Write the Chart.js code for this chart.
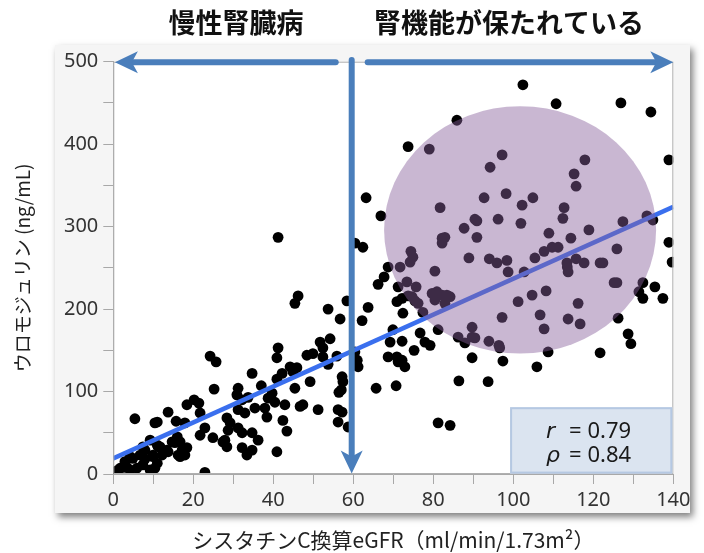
<!DOCTYPE html>
<html><head><meta charset="utf-8">
<script src="https://cdn.jsdelivr.net/npm/chart.js@4"></script>
<style>html,body{margin:0;padding:0;background:#fff}#wrap{width:704px;height:553px}</style>
</head><body><div id="wrap"><canvas id="c" width="704" height="553"></canvas></div>
<script>
// eGFR (x) and uromodulin (y) per patient
const egfr = [
 0.9,1.7,3.4,4.2,4.9,5.9,6.7,7.4,7.4,9.2,
 9.9,10.4,11,11.2,5.4,10.4,11,13.7,15.7,17.9,
 18.4,20.2,21.4,21.7,22.9,21.7,22.9,16,16.7,14.7,
 17.2,17.9,16.2,13.4,24.2,25.7,25.2,24.9,27.4,28.4,
 29.2,28.7,27.9,28.4,31.2,30.9,32.2,33.7,31.2,32.9,
 35.4,37.9,38.7,40.4,39.7,42.9,46.7,47.4,51.2,56.2,
 57.2,42.4,43.4,56.2,58.7,31.2,32.2,34.7,36.2,32.2,
 33.4,34.7,40.9,38.4,34.7,37,41.2,46.2,45.4,53.7,
 56.7,58.4,60.4,62.4,54.2,51.7,52.4,52.4,48.4,49.9,
 55.9,53.7,41.2,40.9,42.2,44.2,45.9,44.9,40.9,49.2,
 45.4,57.2,56.4,57,61,61.2,60.4,62.2,63.2,66.9,
 68.7,67.7,66.2,63.7,71.2,70.9,72.2,72.4,69.9,69.2,
 72.2,75.2,68.7,70.9,72.2,72.9,71.2,76.7,77.9,79.2,
 81.2,65.7,70.7,86.4,81.2,84.2,89.7,57.4,73.7,79,
 81.7,87.7,90.4,82.2,82.9,82.2,88.9,74.4,74.9,74.2,
 71.7,80.4,73.4,75.7,74.7,75.4,76.2,73.7,79.7,80.9,
 82.2,83.4,84.2,80.4,82.9,77.4,86.2,87.9,89.7,89.7,
 102.4,110.7,126.9,134.4,85.9,138.9,138.9,139.7,97.2,94.2,
 117.9,115.2,115.7,92.7,98.2,104.9,102.2,112.7,112.4,96.2,
 90.9,101.9,90.9,108.9,118.9,127.4,133.4,134.9,114.4,107.7,
 109.7,111.2,105.4,125.9,94,95.9,98.4,113.4,115.7,117.7,
 121.7,122.4,98.7,102.7,113.7,125.2,125.9,132.4,131.4,132.4,
 135.4,137.4,108.2,104.7,101.2,116.2,97.2,106.7,107.7,113.7,
 116.7,126.2,128.7,129.4,121.7,108.7,105.9,97.4,93.7,90.4,
 93.9,96.4,96.6,4.2,2.4,9.9,11.7,13.7,16.7,18.4,
 9.2,11,15.4,7.9,2.9,7.9,12.2,113.5
];
const uromodulin = [
 4,7,8,5,19,7,23,33,11,41,
 23,7,13,33,67,62,63,75,64,62,
 84,90,86,74,56,47,2,45,39,39,
 29,23,23,29,143,136,103,44,39,68,
 62,53,41,33,104,96,90,93,78,74,
 80,80,92,87,98,84,82,84,78,78,
 75,65,52,63,57,56,50,50,41,32,
 23,29,27,69,122,107,287,216,207,200,
 188,210,280,275,164,160,153,142,144,146,
 143,133,153,141,122,130,129,124,115,112,
 104,118,99,102,138,130,148,186,335,313,
 251,239,230,202,227,209,213,195,175,160,
 161,150,142,142,138,130,136,171,160,156,
 175,104,107,113,62,59,141,112,397,394,
 323,298,309,286,287,280,262,270,263,257,
 251,246,233,227,215,210,207,216,219,221,
 217,217,215,211,207,196,166,159,166,178,
 472,449,450,439,429,381,281,257,387,372,
 381,364,349,335,340,335,326,323,310,309,
 307,304,287,292,296,306,313,308,286,270,
 275,275,262,273,261,256,259,256,261,256,
 256,256,245,245,245,232,232,232,221,213,
 227,213,222,217,209,207,190,193,176,188,
 182,189,170,158,147,148,130,137,112,165,
 161,156,153,21,8,21,33,27,21,32,
 5,35,38,29,15,18,23,251
];
// regression line end points
const fitX = [0, 140];
const fitY = [19, 324];
// correlation statistics
const statNames = ['r', 'ρ'];
const statValues = ['0.79', '0.84'];
// group labels above the chart
const groupLabels = ['慢性腎臓病', '腎機能が保たれている'];
const xTitle = 'シスタチンC換算eGFR（ml/min/1.73m²）';
const yTitle = 'ウロモジュリン (ng/mL)';

// annotation geometry (data units)
const ell = {cx: 101.7, cy: 296, rx: 34, ry: 150};
const divideX = 59.6;
const arrowY = 500;

const points = egfr.map((v, i) => ({x: v, y: uromodulin[i]}));
const fitLine = fitX.map((v, i) => ({x: v, y: fitY[i]}));

function arrow(ctx, x1, y1, x2, y2) {
  const ang = Math.atan2(y2 - y1, x2 - x1), L = 23, W = 11, N = 6;
  const c = Math.cos(ang), s = Math.sin(ang);
  const bx = x2 - c * (L - N), by = y2 - s * (L - N);
  ctx.beginPath(); ctx.moveTo(x1, y1); ctx.lineTo(bx, by); ctx.stroke();
  const hx = x2 - c * L, hy = y2 - s * L, px = -s, py = c;
  ctx.beginPath();
  ctx.moveTo(x2, y2);
  ctx.lineTo(hx + px * W, hy + py * W);
  ctx.lineTo(bx, by);
  ctx.lineTo(hx - px * W, hy - py * W);
  ctx.closePath(); ctx.fill();
}

const deco = {
  id: 'deco',
  beforeDraw(chart) {
    const {ctx, chartArea: a} = chart;
    ctx.save();
    ctx.fillStyle = '#fff'; ctx.fillRect(0, 0, chart.width, chart.height);
    ctx.shadowColor = 'rgba(0,0,0,0.5)'; ctx.shadowBlur = 7; ctx.shadowOffsetX = 3; ctx.shadowOffsetY = 4;
    ctx.fillStyle = '#f5f5f5'; ctx.fillRect(55, 45, 635, 468);
    ctx.shadowColor = 'transparent';
    ctx.fillStyle = '#fff'; ctx.fillRect(a.left, a.top, a.right - a.left, a.bottom - a.top);
    ctx.restore();
  },
  afterDatasetsDraw(chart) {
    const {ctx, chartArea: a, scales: {x, y}} = chart;
    ctx.save();
    ctx.strokeStyle = '#b0b0b0'; ctx.lineWidth = 1;
    ctx.strokeRect(a.left + 0.5, a.top + 0.5, a.right - a.left - 1, a.bottom - a.top - 1);
    // ellipse overlay
    const cx = x.getPixelForValue(ell.cx), cy = y.getPixelForValue(ell.cy);
    const rx = Math.abs(x.getPixelForValue(ell.cx + ell.rx) - cx);
    const ry = Math.abs(y.getPixelForValue(ell.cy + ell.ry) - cy);
    ctx.fillStyle = 'rgba(135,96,155,0.45)';
    ctx.beginPath(); ctx.ellipse(cx, cy, rx, ry, 0, 0, Math.PI * 2); ctx.fill();
    // arrows
    ctx.strokeStyle = '#4a7ebb'; ctx.fillStyle = '#4a7ebb';
    ctx.lineWidth = 6; ctx.lineCap = 'round';
    const ay = y.getPixelForValue(arrowY) + 0.5;
    const dx = x.getPixelForValue(divideX);
    arrow(ctx, dx - 16, ay, x.getPixelForValue(0.4), ay);
    arrow(ctx, dx + 16, ay, x.getPixelForValue(140), ay);
    arrow(ctx, dx, y.getPixelForValue(502), dx, y.getPixelForValue(0.5));
    // stats box
    const bl = x.getPixelForValue(99.2), br = x.getPixelForValue(140) - 1;
    const bt = y.getPixelForValue(81), bb = y.getPixelForValue(0.5);
    ctx.fillStyle = '#dbe4f0'; ctx.fillRect(bl, bt, br - bl, bb - bt);
    ctx.strokeStyle = '#b5c8e2'; ctx.lineWidth = 2; ctx.strokeRect(bl + 1, bt + 1, br - bl - 2, bb - bt - 2);
    ctx.fillStyle = '#1a1a1a'; ctx.textBaseline = 'alphabetic'; ctx.textAlign = 'left';
    statNames.forEach((n, i) => {
      const base = bt + 31 + i * 24;
      ctx.font = 'italic 22px "DejaVu Sans"';
      ctx.fillText(n, bl + 36, base);
      ctx.font = '22px "Noto Sans"';
      ctx.fillText('= ' + statValues[i], bl + 59, base);
    });
    ctx.restore();
  },
  afterDraw(chart) {
    const {ctx} = chart;
    ctx.save();
    ctx.fillStyle = '#111'; ctx.textAlign = 'center'; ctx.textBaseline = 'middle';
    ctx.font = 'bold 27px "Noto Sans CJK JP"';
    ctx.fillText(groupLabels[0], 236, 23);
    ctx.fillText(groupLabels[1], 509, 23);
    ctx.restore();
  }
};

new Chart(document.getElementById('c'), {
  data: {
    datasets: [
      {type: 'line', data: fitLine, borderColor: '#3a6fee', borderWidth: 4.5, pointRadius: 0, order: 0},
      {type: 'scatter', data: points, backgroundColor: '#000', borderWidth: 0, pointRadius: 5.4, order: 1}
    ]
  },
  options: {
    responsive: false, animation: false,
    layout: {padding: {left: 0, top: 61.7, right: 30.7, bottom: 0}},
    plugins: {legend: {display: false}, tooltip: {enabled: false}},
    scales: {
      x: {
        type: 'linear', min: 0, max: 140,
        afterFit: s => { s.height = 79; },
        grid: {drawOnChartArea: false, tickLength: 10, color: '#a8a8a8'},
        border: {color: '#a8a8a8'},
        ticks: {stepSize: 10, padding: 4, color: '#333', maxRotation: 0, minRotation: 0, autoSkip: false,
                font: {family: '"Noto Sans"', size: 20},
                callback: v => (v % 20 === 0 ? String(v) : '')},
        title: {display: true, text: xTitle, color: '#222', padding: {top: 0, bottom: 0},
                font: {family: '"Noto Sans CJK JP"', size: 21}}
      },
      y: {
        type: 'linear', min: 0, max: 500,
        afterFit: s => { s.width = 113.3; },
        grid: {drawOnChartArea: false, tickLength: 10, color: '#a8a8a8'},
        border: {color: '#a8a8a8'},
        ticks: {stepSize: 50, padding: 5, color: '#333', autoSkip: false,
                font: {family: '"Noto Sans"', size: 20},
                callback: v => (v % 100 === 0 ? String(v) : '')},
        title: {display: true, text: yTitle, color: '#222', padding: {top: 11, bottom: 0},
                font: {family: '"Noto Sans CJK JP"', size: 19}}
      }
    }
  },
  plugins: [deco]
});
</script>
</body></html>
